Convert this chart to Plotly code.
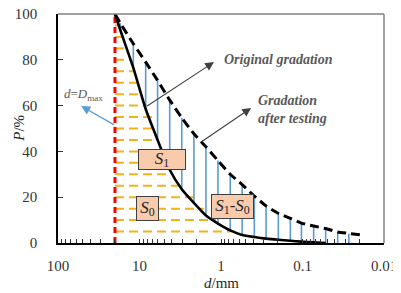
import math
import plotly.graph_objects as go

# ---------------- data ----------------
D_MAX = 20.0

sieve_d = [17.2, 11.9, 8.4, 6.0, 4.26, 3.03, 2.15, 1.53, 1.09, 0.77,
           0.55, 0.39, 0.28, 0.198, 0.141, 0.103, 0.073, 0.052, 0.037, 0.027]
original_P = [96, 87, 79, 71, 62.4, 54.7, 47.7, 42, 36, 30,
              25.5, 20.5, 16.2, 13, 10.8, 8.7, 7.4, 6.3, 4.8, 4.2]
tested_P = [93, 76.5, 58.5, 45, 32, 23.5, 17.5, 12, 8.5, 5.5,
            3.5, 2.6, 1.9, 1.4, 1.0, 0.6, 0.3, 0, 0, 0]

original_end_d = 0.0177
original_end_P = 3.4

orange_P = [5, 10, 15, 20, 25, 30, 35, 40, 45, 50,
            55, 60, 65, 70, 75, 80, 85, 90, 95]
orange_end_d = [0.75, 1.15, 1.62, 2.15, 3.12, 4.14, 4.78, 5.35, 5.9, 6.35,
                7.05, 8.0, 9.2, 10.3, 11.5, 12.8, 14.3, 16.0, 17.9]

x_tick_major = [100, 10, 1, 0.1, 0.01]
x_tick_labels = ["100", "10", "1", "0.1", "0.01"]
y_tick_vals = [0, 20, 40, 60, 80, 100]

# ---------------- build figure ----------------
fig = go.Figure()

# orange horizontal dashed lines (S0 area)
ox, oy = [], []
for p, de in zip(orange_P, orange_end_d):
    ox += [D_MAX, de, None]
    oy += [p, p, None]
fig.add_trace(go.Scatter(x=ox, y=oy, mode="lines",
                         line=dict(color="#F2B21C", width=2, dash="9px,5px"),
                         hoverinfo="skip", showlegend=False))

# blue vertical lines (S1-S0 area)
bx, by = [], []
for d, top, bot in zip(sieve_d, original_P, tested_P):
    bx += [d, d, None]
    by += [bot, top, None]
fig.add_trace(go.Scatter(x=bx, y=by, mode="lines",
                         line=dict(color="#5B9BD5", width=1.6),
                         hoverinfo="skip", showlegend=False))

# red dashed d = Dmax
fig.add_trace(go.Scatter(x=[D_MAX, D_MAX], y=[0, 100], mode="lines",
                         line=dict(color="#FF0000", width=3, dash="6px,4px"),
                         hoverinfo="skip", showlegend=False))

# gradation after testing (solid)
td = [D_MAX] + sieve_d[:18]
tp = [100] + tested_P[:18]
fig.add_trace(go.Scatter(x=td, y=tp, mode="lines",
                         line=dict(color="black", width=2.6, shape="spline", smoothing=0.5),
                         hoverinfo="skip", showlegend=False))

# original gradation (dashed)
od = [D_MAX] + sieve_d + [original_end_d]
op = [100] + original_P + [original_end_P]
fig.add_trace(go.Scatter(x=od, y=op, mode="lines",
                         line=dict(color="black", width=3, dash="9px,5px",
                                   shape="spline", smoothing=0.5),
                         hoverinfo="skip", showlegend=False))

# x ticks: all 1..9 multiples, labels only at decades
tickvals, ticktext = [], []
for e in range(-2, 3):
    for m in range(1, 10):
        v = m * 10 ** e
        if v > 100.0001:
            continue
        tickvals.append(v)
        lab = ""
        for tv, tl in zip(x_tick_major, x_tick_labels):
            if abs(v - tv) < 1e-9:
                lab = tl
        ticktext.append(lab)

SERIF = "Liberation Serif, serif"
GRAY = "#595959"

L = math.log10
annos = []

# arrows
annos.append(dict(x=L(1.22), y=79, ax=L(8.4), ay=59.4, xref="x", yref="y",
                  axref="x", ayref="y", text="", showarrow=True,
                  arrowhead=2, arrowsize=1.6, arrowwidth=1.1, arrowcolor="#404040"))
annos.append(dict(x=L(0.427), y=59, ax=L(1.77), ay=44, xref="x", yref="y",
                  axref="x", ayref="y", text="", showarrow=True,
                  arrowhead=2, arrowsize=1.6, arrowwidth=1.1, arrowcolor="#404040"))
annos.append(dict(x=L(52), y=59.8, ax=L(19.8), ay=51.3, xref="x", yref="y",
                  axref="x", ayref="y", text="", showarrow=True,
                  arrowhead=2, arrowsize=1.4, arrowwidth=1.3, arrowcolor="#5B9BD5"))

# text labels
annos.append(dict(x=L(0.198), y=80.3, xref="x", yref="y", showarrow=False,
                  text="<b><i>Original gradation</i></b>",
                  font=dict(family=SERIF, size=14, color=GRAY)))
annos.append(dict(x=L(0.37), y=58.2, xref="x", yref="y", showarrow=False,
                  xanchor="left", align="left",
                  text="<b><i>Gradation<br>after testing</i></b>",
                  font=dict(family=SERIF, size=14, color=GRAY)))
annos.append(dict(x=L(49), y=65, xref="x", yref="y", showarrow=False,
                  text="<i>d</i>=<i>D</i><sub>max</sub>",
                  font=dict(family=SERIF, size=13, color=GRAY)))

# boxes
BOX = dict(showarrow=False, bgcolor="#F8CBAD", bordercolor="#3F3F3F",
           borderwidth=1, borderpad=0, xref="x", yref="y",
           font=dict(family=SERIF, size=17, color="#262626"))
annos.append(dict(BOX, x=0.728, y=36.5, width=46, height=19,
                  text="<i>S</i><sub>1</sub>"))
annos.append(dict(BOX, x=0.907, y=15.2, width=21, height=23,
                  text="<i>S</i><sub>0</sub>"))
annos.append(dict(BOX, x=-0.142, y=16, width=41, height=23,
                  text="<i>S</i><sub>1</sub>-<i>S</i><sub>0</sub>"))

# axis titles
annos.append(dict(x=-0.122, y=0.5, xref="paper", yref="paper", showarrow=False,
                  xanchor="center", yanchor="middle",
                  textangle=-90, text="<i>P</i>/%",
                  font=dict(family=SERIF, size=15, color="#262626")))
annos.append(dict(x=0.5, y=-0.175, xref="paper", yref="paper", showarrow=False,
                  xanchor="center", yanchor="middle",
                  text="<i>d</i>/mm",
                  font=dict(family=SERIF, size=15, color="#262626")))

# The page body has an 8px default margin, so the figure is sized/offset to
# land the plot area where the reference has it in the 401x293 window.
fig.update_layout(
    template="none",
    width=393, height=285,
    margin=dict(l=50, r=17, t=6, b=50, autoexpand=False),
    paper_bgcolor="white", plot_bgcolor="white",
    font=dict(family=SERIF),
    annotations=annos,
    shapes=[
        dict(type="line", xref="paper", yref="paper", x0=0, x1=1, y0=1, y1=1,
             line=dict(color="#808080", width=1.5)),
        dict(type="line", xref="paper", yref="paper", x0=1, x1=1, y0=0, y1=1,
             line=dict(color="#808080", width=1.5)),
    ],
    xaxis=dict(type="log", range=[2, -2], autorange=False, automargin=False,
               tickvals=tickvals, ticktext=ticktext, ticklabeloverflow="allow",
               ticks="inside", ticklen=4, tickwidth=1, tickcolor="#333333",
               showline=True, linecolor="black", linewidth=1.5,
               showgrid=False, zeroline=False, ticklabelstandoff=8,
               tickfont=dict(family=SERIF, size=15, color="#333333")),
    yaxis=dict(range=[0, 100], autorange=False, automargin=False, tickvals=y_tick_vals,
               ticklabeloverflow="allow",
               ticks="inside", ticklen=5, tickwidth=1, tickcolor="#333333",
               showline=True, linecolor="black", linewidth=1.5,
               showgrid=False, zeroline=False, ticklabelstandoff=16,
               tickfont=dict(family=SERIF, size=15, color="#333333")),
)

fig.write_html("out.html")
